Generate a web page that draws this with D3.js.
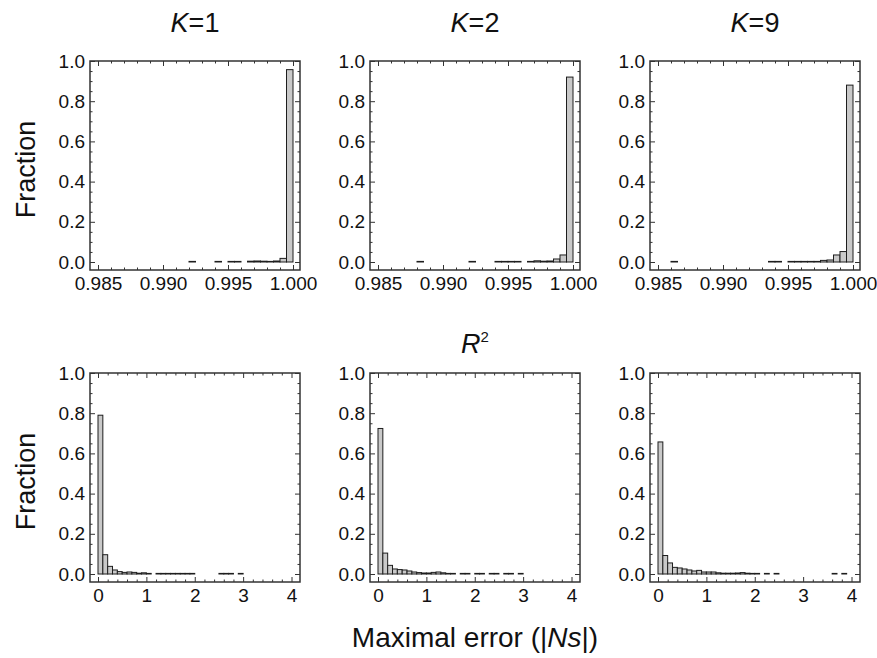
<!DOCTYPE html>
<html>
<head>
<meta charset="utf-8">
<script src="https://cdn.jsdelivr.net/npm/d3@7"></script>
<style>
  body { margin: 0; background: #fff; }
  svg { font-family: "Liberation Sans", Arial, sans-serif; }
</style>
</head>
<body>
<div id="chart"></div>
<script>
// Données
const kValues = [1, 2, 9];

// Histogrammes de R² : 30 classes de 0.0005 entre 0.985 et 1.000
const r2BinStarts = [0.985, 0.9855, 0.986, 0.9865, 0.987, 0.9875, 0.988, 0.9885, 0.989, 0.9895,
  0.990, 0.9905, 0.991, 0.9915, 0.992, 0.9925, 0.993, 0.9935, 0.994, 0.9945,
  0.995, 0.9955, 0.996, 0.9965, 0.997, 0.9975, 0.998, 0.9985, 0.999, 0.9995];
const r2BinWidth = 0.0005;
const r2K1 = [0, 0, 0, 0, 0, 0, 0, 0, 0, 0,
  0, 0, 0, 0, 0.003, 0, 0, 0, 0.003, 0,
  0.003, 0.003, 0, 0.004, 0.005, 0.004, 0.003, 0.005, 0.018, 0.957];
const r2K2 = [0, 0, 0, 0, 0, 0, 0.003, 0, 0, 0,
  0, 0, 0, 0, 0.003, 0, 0, 0, 0.003, 0.003,
  0.003, 0.003, 0, 0.003, 0.006, 0.004, 0.005, 0.015, 0.035, 0.92];
const r2K9 = [0, 0, 0.003, 0, 0, 0, 0, 0, 0, 0,
  0, 0, 0, 0, 0, 0, 0, 0.003, 0.003, 0,
  0.003, 0.003, 0.003, 0.003, 0.003, 0.008, 0.01, 0.035, 0.052, 0.88];

// Histogrammes de l'erreur maximale : 40 classes de 0.1 entre 0 et 4
const errBinStarts = [0, 0.1, 0.2, 0.3, 0.4, 0.5, 0.6, 0.7, 0.8, 0.9,
  1.0, 1.1, 1.2, 1.3, 1.4, 1.5, 1.6, 1.7, 1.8, 1.9,
  2.0, 2.1, 2.2, 2.3, 2.4, 2.5, 2.6, 2.7, 2.8, 2.9,
  3.0, 3.1, 3.2, 3.3, 3.4, 3.5, 3.6, 3.7, 3.8, 3.9];
const errBinWidth = 0.1;
const errK1 = [0.79, 0.096, 0.038, 0.02, 0.012, 0.008, 0.01, 0.008, 0.004, 0.006,
  0.003, 0, 0.003, 0.003, 0.003, 0.003, 0.003, 0.003, 0.003, 0.003,
  0, 0, 0, 0, 0, 0.003, 0.003, 0.003, 0, 0.003,
  0, 0, 0, 0, 0, 0, 0, 0, 0, 0];
const errK2 = [0.724, 0.104, 0.043, 0.025, 0.022, 0.02, 0.015, 0.01, 0.007, 0.005,
  0.005, 0.008, 0.01, 0.006, 0.003, 0.003, 0, 0.003, 0.003, 0,
  0.003, 0.003, 0, 0.003, 0.003, 0, 0.003, 0.003, 0, 0.003,
  0, 0, 0, 0, 0, 0, 0, 0, 0, 0];
const errK9 = [0.657, 0.092, 0.055, 0.033, 0.03, 0.025, 0.02, 0.015, 0.018, 0.01,
  0.01, 0.01, 0.006, 0.004, 0.004, 0.004, 0.005, 0.007, 0.004, 0.003,
  0.003, 0, 0.003, 0, 0.003, 0, 0, 0, 0, 0,
  0, 0, 0, 0, 0, 0, 0.003, 0, 0.003, 0];

// Graduations
const r2Ticks = [0.985, 0.990, 0.995, 1.000];
const r2MinorTicks = [0.986, 0.987, 0.988, 0.989, 0.991, 0.992, 0.993, 0.994,
  0.996, 0.997, 0.998, 0.999];
const errTicks = [0, 1, 2, 3, 4];
const errMinorTicks = [0.2, 0.4, 0.6, 0.8, 1.2, 1.4, 1.6, 1.8, 2.2, 2.4, 2.6, 2.8,
  3.2, 3.4, 3.6, 3.8];
const yTicks = [0, 0.2, 0.4, 0.6, 0.8, 1.0];
const yMinorTicks = [0.05, 0.1, 0.15, 0.25, 0.3, 0.35, 0.45, 0.5, 0.55, 0.65, 0.7, 0.75,
  0.85, 0.9, 0.95];

// Mise en page
const W = 877, H = 658;
const panelLefts = [90, 370, 650];
const panelW = 210;
const rowTops = [61, 373];
const plotH = 201;      // hauteur de 0 à 1
const padBottom = 8;    // marge sous 0
const frameColor = "#333";
const textColor = "#111";

const svg = d3.select("#chart")
  .append("svg")
  .attr("width", W)
  .attr("height", H);

const rows = [
  { starts: r2BinStarts, width: r2BinWidth, series: [r2K1, r2K2, r2K9],
    domain: [0.985, 1.0], pad: [8, 7], ticks: r2Ticks, minor: r2MinorTicks, fmt: d3.format(".3f") },
  { starts: errBinStarts, width: errBinWidth, series: [errK1, errK2, errK9],
    domain: [0, 4], pad: [8, 8.5], ticks: errTicks, minor: errMinorTicks, fmt: d3.format("d") }
];

// Ajoute un axe (graduations vers l'intérieur, sans ligne de domaine)
function addAxis(g, axis, transform, values, size, format, padding) {
  axis.tickValues(values)
    .tickSize(-size)
    .tickPadding(padding)
    .tickFormat(format || "");
  const ag = g.append("g").attr("transform", transform).call(axis);
  ag.select(".domain").remove();
  ag.selectAll(".tick line").attr("stroke", frameColor).attr("stroke-width", 1);
  ag.selectAll(".tick text")
    .attr("fill", textColor)
    .style("font-size", "19px");
}

rows.forEach((row, r) => {
  const top = rowTops[r];
  const y = d3.scaleLinear().domain([0, 1]).range([top + plotH, top]);
  const frameBottom = top + plotH + padBottom;

  kValues.forEach((k, c) => {
    const left = panelLefts[c];
    const x = d3.scaleLinear()
      .domain(row.domain)
      .range([left + row.pad[0], left + panelW - row.pad[1]]);
    const values = row.series[c];

    const g = svg.append("g").attr("class", "panel");

    // Barres (les classes vides ne sont pas dessinées)
    g.selectAll("rect.bar")
      .data(row.starts.map((s, i) => ({ s, v: values[i] })).filter(d => d.v > 0))
      .join("rect")
      .attr("class", "bar")
      .attr("x", d => x(d.s))
      .attr("width", d => x(d.s + row.width) - x(d.s))
      .attr("y", d => y(d.v))
      .attr("height", d => y(0) - y(d.v))
      .attr("fill", "#c9c9c9")
      .attr("stroke", "#1e1e1e")
      .attr("stroke-width", 1);

    // Graduations sur les quatre côtés
    addAxis(g, d3.axisBottom(x), `translate(0,${frameBottom})`, row.ticks, 5, row.fmt, 7);
    addAxis(g, d3.axisBottom(x), `translate(0,${frameBottom})`, row.minor, 2.5, null, 7);
    addAxis(g, d3.axisTop(x), `translate(0,${top})`, row.ticks, 5, null, 7);
    addAxis(g, d3.axisTop(x), `translate(0,${top})`, row.minor, 2.5, null, 7);
    addAxis(g, d3.axisLeft(y), `translate(${left},0)`, yTicks, 5, d3.format(".1f"), 5);
    addAxis(g, d3.axisLeft(y), `translate(${left},0)`, yMinorTicks, 2.5, null, 5);
    addAxis(g, d3.axisRight(y), `translate(${left + panelW},0)`, yTicks, 5, null, 5);
    addAxis(g, d3.axisRight(y), `translate(${left + panelW},0)`, yMinorTicks, 2.5, null, 5);

    // Cadre
    g.append("rect")
      .attr("x", left)
      .attr("y", top)
      .attr("width", panelW)
      .attr("height", frameBottom - top)
      .attr("fill", "none")
      .attr("stroke", frameColor)
      .attr("stroke-width", 1.5);

    // Titres K=…
    if (r === 0) {
      const t = svg.append("text")
        .attr("x", left + panelW / 2)
        .attr("y", 32)
        .attr("text-anchor", "middle")
        .style("font-size", "27px")
        .attr("fill", textColor);
      t.append("tspan").style("font-style", "italic").text("K");
      t.append("tspan").text("=" + k);
    }
  });

  // Label vertical
  svg.append("text")
    .attr("transform", `translate(35,${top + (plotH + padBottom) / 2 + 4}) rotate(-90)`)
    .attr("text-anchor", "middle")
    .style("font-size", "27px")
    .attr("fill", textColor)
    .text("Fraction");
});

// Labels des axes x
const r2Label = svg.append("text")
  .attr("x", 475)
  .attr("y", 353)
  .attr("text-anchor", "middle")
  .style("font-size", "27px")
  .attr("fill", textColor);
r2Label.append("tspan").style("font-style", "italic").text("R");
r2Label.append("tspan").attr("dy", -11).style("font-size", "15px").text("2");

const errLabel = svg.append("text")
  .attr("x", 475)
  .attr("y", 647)
  .attr("text-anchor", "middle")
  .style("font-size", "28px")
  .attr("fill", textColor);
errLabel.append("tspan").text("Maximal error (|");
errLabel.append("tspan").style("font-style", "italic").text("Ns");
errLabel.append("tspan").text("|)");
</script>
</body>
</html>
